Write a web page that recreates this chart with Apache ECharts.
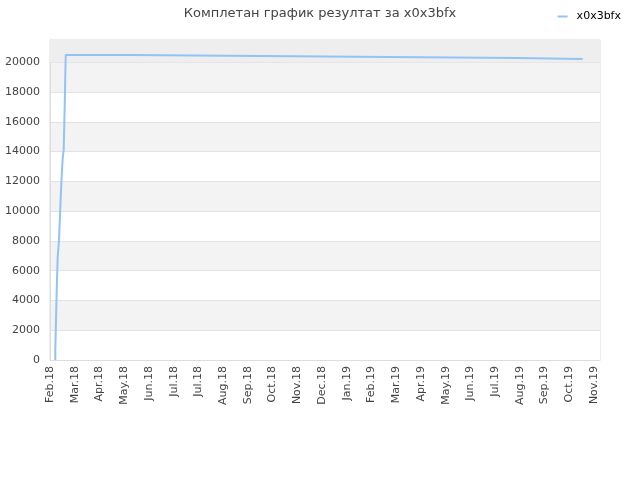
<!DOCTYPE html>
<html>
<head>
<meta charset="utf-8">
<script src="https://cdn.jsdelivr.net/npm/echarts@6/dist/echarts.min.js"></script>
<style>html,body{margin:0;padding:0;background:#fff}#c{width:640px;height:480px}</style>
</head>
<body>
<div id="c"></div>
<script>
var titleText = 'Комплетан график резултат за x0x3bfx';
var seriesName = 'x0x3bfx';
var tickLabels = ['Feb.18','Mar.18','Apr.18','May.18','Jun.18','Jul.18','Jul.18','Aug.18','Sep.18','Oct.18','Nov.18','Dec.18','Jan.19','Feb.19','Mar.19','Apr.19','May.19','Jun.19','Jul.19','Aug.19','Sep.19','Oct.19','Nov.19'];
// x positions measured in tick-label units (0 = Feb.18, 1 = next tick, ...)
var xPos = [0.214, 0.214, 0.271, 0.311, 0.364, 0.404, 0.433, 0.473, 0.514, 0.554, 0.594, 0.635, 3.263, 8.49, 13.71, 18.92, 21.54];
var values = [0, 600, 4700, 6930, 8050, 9680, 10940, 12370, 13580, 14100, 17050, 20490, 20423, 20356, 20289, 20221, 20221];
var yMax = 21500;
var xMax = 22.24;

var data = xPos.map(function (x, i) { return [x, values[i]]; });

var chart = echarts.init(document.getElementById('c'));
chart.setOption({
  animation: false,
  backgroundColor: '#ffffff',
  title: {
    text: titleText,
    left: 'center',
    top: 2,
    textStyle: { fontFamily: 'DejaVu Sans', fontSize: 13, fontWeight: 'normal', color: '#444444' }
  },
  legend: {
    right: 14,
    top: 6,
    icon: 'rect',
    itemWidth: 10,
    itemHeight: 2,
    itemGap: 8,
    textStyle: { fontFamily: 'DejaVu Sans', fontSize: 11, color: '#000', padding: [0, 0, 0, 4] },
    data: [seriesName]
  },
  grid: { left: 50, right: 40, top: 40, bottom: 120, show: true, borderColor: '#dddddd', borderWidth: 1 },
  xAxis: {
    type: 'value',
    min: 0,
    max: xMax,
    interval: 1,
    axisLine: { show: true, lineStyle: { color: '#dddddd' } },
    axisTick: { show: false },
    splitLine: { show: false },
    axisLabel: {
      rotate: 90,
      margin: 6,
      fontFamily: 'DejaVu Sans',
      fontSize: 11,
      color: '#444444',
      showMaxLabel: true,
      formatter: function (v) {
        var i = Math.round(v);
        return Math.abs(v - i) < 1e-6 && tickLabels[i] ? tickLabels[i] : '';
      }
    }
  },
  yAxis: {
    type: 'value',
    min: 0,
    max: yMax,
    interval: 2000,
    axisLine: { show: true, lineStyle: { color: '#dddddd' } },
    axisTick: { show: false },
    axisLabel: {
      margin: 10,
      fontFamily: 'DejaVu Sans',
      fontSize: 11,
      color: '#444444',
      formatter: function (v) { return v % 2000 === 0 ? String(v) : ''; }
    },
    splitLine: { show: true, lineStyle: { color: '#e2e2e2', width: 1 } },
    splitArea: { show: true, areaStyle: { color: ['#ffffff', '#f3f3f3'] } }
  },
  series: [{
    name: seriesName,
    type: 'line',
    step: 'end',
    showSymbol: false,
    symbol: 'none',
    silent: true,
    data: data,
    lineStyle: { color: '#92c3f2', width: 2 },
    itemStyle: { color: '#92c3f2' },
    markArea: {
      silent: true,
      itemStyle: { color: '#eeeeee' },
      data: [[{ yAxis: 20000 }, { yAxis: yMax }]]
    },
    z: 3
  }]
});
</script>
</body>
</html>
